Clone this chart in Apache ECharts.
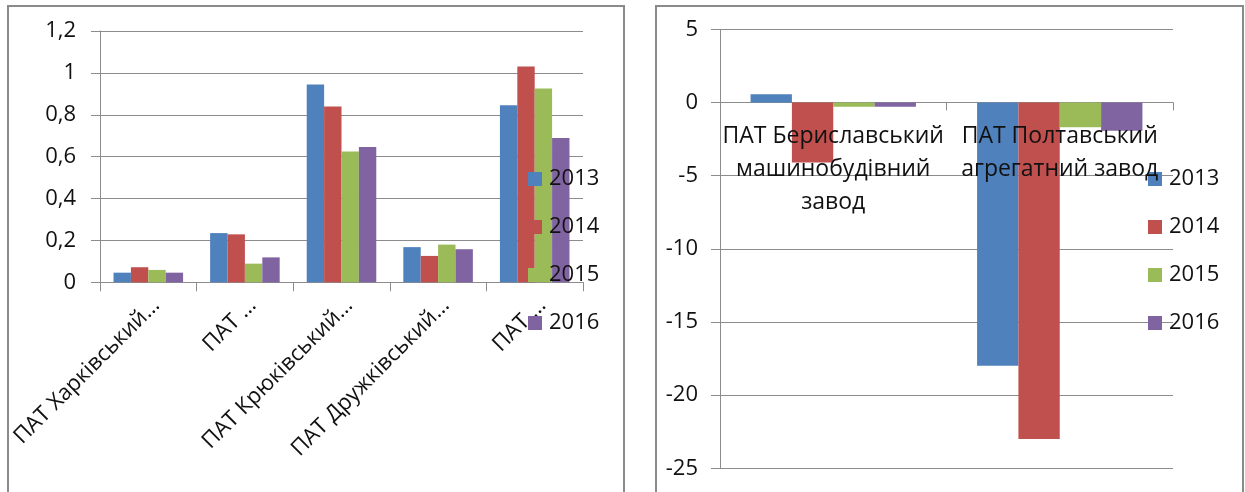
<!DOCTYPE html>
<html>
<head>
<meta charset="utf-8">
<script src="https://cdn.jsdelivr.net/npm/echarts@6/dist/echarts.min.js"></script>
<style>
html,body{margin:0;padding:0;background:#fff;}
#c{width:1245px;height:492px;}
</style>
</head>
<body>
<div id="c"></div>
<script>
// ---- data ----
var years = ['2013', '2014', '2015', '2016'];
var leftCategories = ['ПАТ Харківський…', 'ПАТ …', 'ПАТ Крюківський…', 'ПАТ Дружківський…', 'ПАТ …'];
var left2013 = [0.046, 0.235, 0.945, 0.168, 0.846];
var left2014 = [0.072, 0.229, 0.840, 0.126, 1.031];
var left2015 = [0.059, 0.089, 0.625, 0.180, 0.926];
var left2016 = [0.046, 0.119, 0.646, 0.158, 0.689];
var leftTicks = [0, 0.2, 0.4, 0.6, 0.8, 1, 1.2];

var rightCategories = ['ПАТ Бериславський\nмашинобудівний\nзавод', 'ПАТ Полтавський\nагрегатний завод'];
var right2013 = [0.57, -18.0];
var right2014 = [-4.1, -23.0];
var right2015 = [-0.29, -1.7];
var right2016 = [-0.30, -1.93];
var rightTicks = [-25, -20, -15, -10, -5, 0, 5];

// ---- styles ----
var colors = ['#4F81BD', '#C0504D', '#9BBB59', '#8064A2'];
var FONT = 'Open Sans';
var gridColor = '#8c8c8c';
var textColor = '#111';

var leftSeriesData = [left2013, left2014, left2015, left2016];
var rightSeriesData = [right2013, right2014, right2015, right2016];

var series = [];
years.forEach(function (y, i) {
  series.push({
    name: y, type: 'bar', xAxisIndex: 0, yAxisIndex: 0,
    data: leftSeriesData[i], barGap: '0%', barCategoryGap: '28%',
    itemStyle: { color: colors[i] }, emphasis: { disabled: true }
  });
});
years.forEach(function (y, i) {
  series.push({
    name: y + ' ', type: 'bar', xAxisIndex: 1, yAxisIndex: 1,
    data: rightSeriesData[i], barGap: '0%', barCategoryGap: '27%',
    itemStyle: { color: colors[i] }, emphasis: { disabled: true }
  });
});

function legendCfg(left, names) {
  return {
    orient: 'vertical', left: left, top: 163,
    itemWidth: 14, itemHeight: 14, itemGap: 26,
    icon: 'rect', selectedMode: false,
    data: names,
    formatter: function (n) { return n.trim(); },
    textStyle: { fontFamily: FONT, fontSize: 22, color: textColor, lineHeight: 22, padding: [0, 0, 0, 2] }
  };
}

var option = {
  animation: false,
  color: colors,
  graphic: [
    { type: 'rect', shape: { x: 8, y: 6, width: 616, height: 500 }, style: { fill: 'none', stroke: '#8a8a8a', lineWidth: 2 }, z: 100 },
    { type: 'rect', shape: { x: 656, y: 6, width: 587, height: 500 }, style: { fill: 'none', stroke: '#8a8a8a', lineWidth: 2 }, z: 100 }
  ],
  legend: [
    legendCfg(523, years),
    legendCfg(1143, years.map(function (y) { return y + ' '; }))
  ],
  grid: [
    { left: 100, top: 31, width: 483, height: 251.3, containLabel: false, outerBoundsMode: 'none' },
    { left: 720, top: 29.3, width: 453, height: 439, containLabel: false, outerBoundsMode: 'none' },
    // label-only grid whose bottom edge is the zero line of the right chart
    { left: 720, top: 29.3, width: 453, height: 72.4, containLabel: false, outerBoundsMode: 'none' }
  ],
  xAxis: [
    {
      type: 'category', gridIndex: 0, data: leftCategories,
      axisLine: { lineStyle: { color: gridColor, width: 1 } },
      axisTick: { show: true, length: 9, lineStyle: { color: gridColor } },
      axisLabel: { interval: 0, rotate: 45, margin: 12, verticalAlign: 'top', fontFamily: FONT, fontSize: 22, color: textColor }
    },
    {
      type: 'category', gridIndex: 1, data: rightCategories,
      axisLine: { onZero: true, lineStyle: { color: gridColor, width: 1 } },
      axisTick: { show: true, length: 8, lineStyle: { color: gridColor } },
      axisLabel: { show: false }
    },
    {
      type: 'category', gridIndex: 2, data: rightCategories, z: 10,
      axisLine: { show: false }, axisTick: { show: false },
      axisLabel: { interval: 0, margin: 18, fontFamily: FONT, fontSize: 23, lineHeight: 33, color: textColor, align: 'center' }
    }
  ],
  yAxis: [
    {
      type: 'value', gridIndex: 0, min: leftTicks[0], max: leftTicks[leftTicks.length - 1], interval: 0.2,
      axisLine: { show: true, lineStyle: { color: gridColor } },
      axisTick: { show: true, length: 9, lineStyle: { color: gridColor } },
      splitLine: { lineStyle: { color: gridColor, width: 1 } },
      axisLabel: {
        margin: 24, fontFamily: FONT, fontSize: 22, color: textColor,
        formatter: function (v) { return String(+v.toFixed(1)).replace('.', ','); }
      }
    },
    {
      type: 'value', gridIndex: 1, min: rightTicks[0], max: rightTicks[rightTicks.length - 1], interval: 5,
      axisLine: { show: true, lineStyle: { color: gridColor } },
      axisTick: { show: true, length: 9, lineStyle: { color: gridColor } },
      splitLine: { lineStyle: { color: gridColor, width: 1 } },
      axisLabel: { margin: 22, fontFamily: FONT, fontSize: 22, color: textColor }
    },
    {
      type: 'value', gridIndex: 2, min: 0, max: 1, show: false
    }
  ],
  series: series
};

var chart = echarts.init(document.getElementById('c'), null, { renderer: 'canvas' });
chart.setOption(option);
</script>
</body>
</html>
